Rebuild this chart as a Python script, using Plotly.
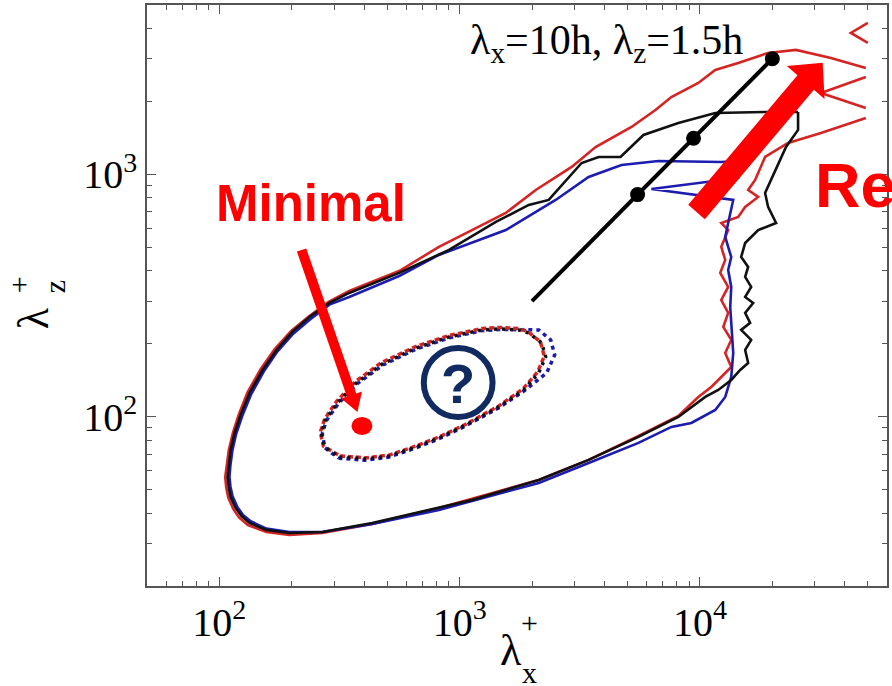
import math
import plotly.graph_objects as go

# ---------------- data (lambda_x^+, lambda_z^+) ----------------
red_outer_x = [48980, 35060, 25100, 19200, 14420, 11576, 9840, 7603, 6524, 5188, 3677, 2924, 2073, 1556, 1125, 820, 560,
               347, 285, 237, 199, 170, 148.5, 131, 120.5, 113.8, 109.5, 107.2, 105.8, 106.8, 109, 114.4, 121, 131.5, 157, 195.8,
               268, 432.5, 820, 2133, 3440, 5546, 8128, 9840, 11140, 12263, 13490, 12735, 13490, 12500, 13100, 12263, 13100, 12140, 12735, 12263, 13100, 12263, 14420, 15415, 17460, 15864, 16960, 18660, 23250, 31870, 48980]
red_outer_z = [2749, 3022, 3262, 3170, 2883, 2697, 2384, 2086, 1844, 1569, 1297, 1073, 862, 693, 589, 502, 399,
               330, 298, 260, 226, 190, 157, 126, 102, 85.6, 72.9, 63.2, 56.4, 51, 46.2, 41.5, 38.3, 35.7, 33.4, 32.5,
               33.1, 36.1, 42, 54.8, 66.3, 83.2, 100.7, 120.6, 132.6, 145.8, 160.4, 183.2, 207.3, 234.5, 268, 303, 343, 392, 443.3, 502, 589, 630, 667.3, 734, 807, 862, 948, 1180, 1348, 1482, 1709]
red_edge1_x = [48980, 31870, 48980]
red_edge1_z = [2523, 2168, 1879]
red_edge2_x = [49930, 42440, 49930]
red_edge2_z = [4215, 3833, 3486]

black_outer_x = [25590, 18660, 11576, 8128, 5818, 4670, 3785, 3217, 2347, 1939, 1415, 903, 560,
                 347, 287, 237, 201.4, 173, 151.2, 133.6, 122.6, 115.7, 111.4, 109.3, 108.2, 109.3, 111.4, 116.9, 123.7, 133.6, 157, 195.8,
                 268, 432.5, 820, 1125, 2133, 3440, 5546, 8128, 10520, 11910, 13490, 14700, 15864, 15415, 16330, 14840, 16170, 15415, 16640, 15415, 16330, 15415, 15864, 14840, 15415, 17460, 20730, 19200, 18660, 19760, 22800, 25590, 25590]
black_outer_z = [1809, 1809, 1792, 1630, 1454, 1180, 1180, 1114, 784, 748, 636, 488, 392,
                 324, 294.6, 258, 224, 188.5, 155.8, 125.3, 101.7, 85.6, 72.9, 63.2, 56.4, 51.3, 46.6, 42.0, 38.9, 36.4, 34.1, 33.1,
                 33.4, 36.4, 42, 45.3, 54.8, 66.3, 82.5, 99.7, 120.6, 128.9, 141.7, 155.8, 166.6, 188.5, 207.3, 228, 243.8, 268, 294.6, 311.9, 343, 377.3, 414.8, 456, 521, 589, 630, 734, 838, 948, 1297, 1525, 1809]

blue_outer_x = [14420, 14420, 6280, 13750, 13100, 12735, 13100, 13490, 13100, 13490, 13360, 13490, 13750, 13490, 13100, 12735, 11576, 9204, 7603, 5546, 3440, 2133, 1125, 820, 432.5, 268,
                195.8, 157, 135, 125.5, 119, 113.4, 111.2, 110.2, 111.2, 113.3, 117.5, 124.5, 135.5, 153, 174.6, 203, 237, 287, 347,
                560, 820, 1556, 2509, 3440, 4714, 6714, 12263, 14420]
blue_outer_z = [1136, 966.3, 870.5, 784, 630, 551.4, 502, 456, 403, 343, 283.6, 234.5, 183.2, 145.8, 132.6, 120.6, 106.6, 94.2, 90.7, 77.9, 64.4, 53.2, 44.9, 41.2, 36.1, 33.4,
                33.4, 34.5, 37, 39.3, 42.3, 47, 51.5, 56.4, 63, 72.5, 85, 100.5, 123.5, 153.5, 186, 220, 250.6, 290, 311.9,
                380.8, 465, 589, 784, 976, 1093, 1136, 1125, 1136]

black_inner_x = [315.6, 408.5, 508.9, 658.6, 820, 1062, 1456, 1849, 2133, 2280, 2195, 1939, 1762, 1456, 1237, 903, 658.6, 476, 371.3, 309.7, 276.1, 265.8, 273.5, 315.6]
black_inner_z = [68.2, 66.9, 68.8, 75.0, 81.7, 92.4, 109.7, 128.9, 151.5, 176.4, 201.5, 221.5, 228, 230.1, 228, 213.3, 192.1, 164.8, 137.7, 113.9, 96.6, 85.6, 75.0, 68.2]
red_inner_x = [318, 410, 512, 662, 825, 1070, 1460, 1840, 2110, 2250, 2170, 1930, 1760, 1460, 1240, 900, 655, 472, 368, 307, 274, 263, 271, 318]
red_inner_z = [68.8, 67.6, 69.5, 75.8, 82.6, 93.4, 111, 130.5, 153, 177.5, 203, 224, 231, 233.5, 231, 216, 194.5, 167, 139.5, 115.5, 97.5, 86.2, 75.6, 68.8]
blue_inner_x = [313, 405, 505, 655, 815, 1055, 1450, 1860, 2302, 2486, 2392, 2133, 1762, 1456, 1237, 905, 662, 480, 374, 312, 278, 268, 275, 313]
blue_inner_z = [67.4, 66.1, 68.0, 74.2, 80.8, 91.5, 108.5, 128.0, 151.5, 179.8, 207.3, 228, 228.5, 229.0, 226.5, 211.5, 190.5, 163.5, 136.5, 113.0, 95.8, 84.9, 74.3, 67.4]

ref_line_x = [2000, 20000]
ref_line_z = [300, 3000]
ref_dots_x = [5500, 9400, 20000]
ref_dots_z = [825, 1410, 3000]

x_tick_vals = [100, 1000, 10000]
x_tick_text = ["10<sup>2</sup>", "10<sup>3</sup>", "10<sup>4</sup>"]
y_tick_vals = [100, 1000]
y_tick_text = ["10<sup>2</sup>", "10<sup>3</sup>"]
x_minor = [60, 70, 80, 90, 200, 300, 400, 500, 600, 700, 800, 900,
           2000, 3000, 4000, 5000, 6000, 7000, 8000, 9000, 20000, 30000, 40000, 50000]
y_minor = [30, 40, 50, 60, 70, 80, 90, 200, 300, 400, 500, 600, 700, 800, 900,
           2000, 3000, 4000]

RED = "#d42424"
BLUE = "#1c1cb0"
BLACK = "#111111"
ANN_RED = "#ff0000"
NAVY = "#112a60"

fig = go.Figure()

def add_line(x, y, color, width=2.6, dash="solid"):
    fig.add_trace(go.Scatter(x=x, y=y, mode="lines",
                             line=dict(color=color, width=width, dash=dash),
                             hoverinfo="skip"))

add_line(red_outer_x, red_outer_z, RED)
add_line(red_edge1_x, red_edge1_z, RED)
add_line(red_edge2_x, red_edge2_z, RED)
add_line(blue_outer_x, blue_outer_z, BLUE)
add_line(black_outer_x, black_outer_z, BLACK)

add_line(blue_inner_x, blue_inner_z, BLUE, 3.5, "4px,4px")
add_line(red_inner_x, red_inner_z, RED, 3.5, "5px,3px")
add_line(black_inner_x, black_inner_z, BLACK, 3.5, "3px,5px")

fig.add_trace(go.Scatter(x=ref_line_x, y=ref_line_z, mode="lines",
                         line=dict(color="black", width=4), hoverinfo="skip"))
fig.add_trace(go.Scatter(x=ref_dots_x, y=ref_dots_z, mode="markers",
                         marker=dict(color="black", size=15), hoverinfo="skip"))

axis_common = dict(
    type="log", showgrid=False, zeroline=False,
    showline=True, linecolor="#555555", linewidth=1.5, mirror="ticks",
    ticks="inside", ticklen=9, tickwidth=1.3, tickcolor="#555555",
    tickfont=dict(family="Liberation Serif", size=40, color="black"),
)

fig.update_xaxes(range=[math.log10(50), math.log10(60000)],
                 tickvals=x_tick_vals, ticktext=x_tick_text,
                 minor=dict(tickvals=x_minor, ticks="inside", ticklen=5,
                            tickwidth=1, tickcolor="#555555", showgrid=False),
                 **axis_common)
fig.update_yaxes(range=[math.log10(20), math.log10(5000)],
                 tickvals=y_tick_vals, ticktext=y_tick_text,
                 minor=dict(tickvals=y_minor, ticks="inside", ticklen=5,
                            tickwidth=1, tickcolor="#555555", showgrid=False),
                 **axis_common)

def path(pts):
    return "M " + " L ".join(f"{a},{b}" for a, b in pts) + " Z"

re_arrow = [(0.7314, 0.6561), (0.8790, 0.8790), (0.8647, 0.8948), (0.9131, 0.9005),
            (0.9156, 0.8384), (0.9013, 0.8542), (0.7538, 0.6313)]
min_arrow = [(0.2152, 0.5811), (0.2827, 0.3315), (0.2904, 0.3349), (0.2844, 0.2995),
             (0.2624, 0.3226), (0.2701, 0.3260), (0.2026, 0.5756)]

shapes = [
    dict(type="path", xref="paper", yref="paper", path=path(re_arrow),
         fillcolor=ANN_RED, line=dict(width=0)),
    dict(type="path", xref="paper", yref="paper", path=path(min_arrow),
         fillcolor=ANN_RED, line=dict(width=0)),
    dict(type="circle", xref="paper", yref="paper", x0=0.2763, x1=0.3046,
         y0=0.2599, y1=0.2909, fillcolor=ANN_RED, line=dict(width=0)),
    dict(type="circle", xref="paper", yref="paper", x0=0.3740, x1=0.4670,
         y0=0.2909, y1=0.4096, fillcolor="rgba(0,0,0,0)",
         line=dict(color=NAVY, width=6)),
]

serif = "Liberation Serif"
sans = "Liberation Sans"
annotations = [
    dict(text="λ<sub>x</sub>=10h, λ<sub>z</sub>=1.5h", x=0.6213, y=0.935,
         font=dict(family=serif, size=42, color="black")),
    dict(text="<b>Minimal</b>", x=0.2210, y=0.6592,
         font=dict(family=sans, size=51, color=ANN_RED)),
    dict(text="<b>Re</b>", x=0.9003, y=0.691, xanchor="left",
         font=dict(family=sans, size=63, color=ANN_RED)),
    dict(text="<b>?</b>", x=0.4205, y=0.3477,
         font=dict(family=sans, size=56, color=NAVY)),
    # x axis title  λ_x^+
    dict(text="λ", x=(512 - 147) / 742, y=(586 - 650) / 581,
         font=dict(family=serif, size=44, color="black")),
    dict(text="+", x=(531 - 147) / 742, y=(586 - 622) / 581,
         font=dict(family=serif, size=30, color="black")),
    dict(text="x", x=(531 - 147) / 742, y=(586 - 672) / 581,
         font=dict(family=serif, size=30, color="black")),
    # y axis title  λ_z^+
    dict(text="λ", x=(33 - 147) / 742, y=(586 - 318) / 581, textangle=-90,
         font=dict(family=serif, size=44, color="black")),
    dict(text="+", x=(18 - 147) / 742, y=(586 - 285) / 581, textangle=-90,
         font=dict(family=serif, size=30, color="black")),
    dict(text="z", x=(55 - 147) / 742, y=(586 - 287) / 581, textangle=-90,
         font=dict(family=serif, size=30, color="black")),
]
for a in annotations:
    a.setdefault("xref", "paper")
    a.setdefault("yref", "paper")
    a.setdefault("showarrow", False)
    a.setdefault("xanchor", "center")
    a.setdefault("yanchor", "middle")

fig.update_layout(
    width=892, height=686,
    margin=dict(l=147, r=3, t=5, b=100),
    plot_bgcolor="white", paper_bgcolor="white",
    showlegend=False,
    shapes=shapes, annotations=annotations,
)

fig.write_html("out.html")
